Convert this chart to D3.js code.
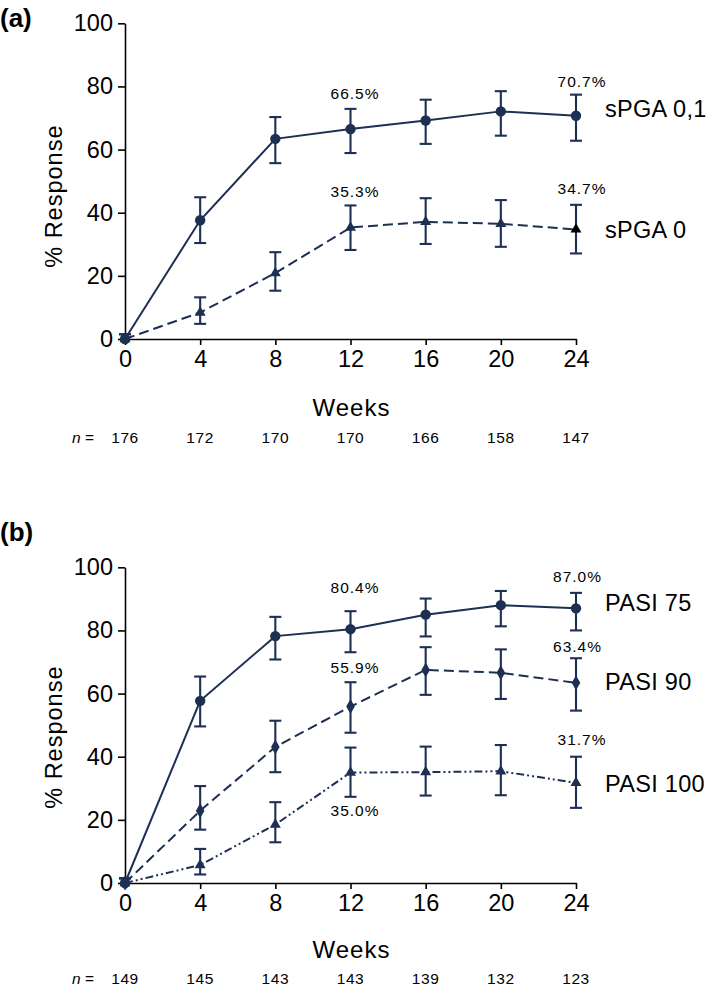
<!DOCTYPE html>
<html>
<head>
<meta charset="utf-8">
<script src="https://cdn.jsdelivr.net/npm/d3@7"></script>
<style>
  html, body { margin: 0; padding: 0; background: #fff; }
  svg { display: block; }
  text { font-family: "Liberation Sans", Arial, Helvetica, sans-serif; fill: #000; }
</style>
</head>
<body>
<svg id="chart" width="709" height="988"></svg>
<script>
// ---------------- DATA ----------------
const weeks = [0, 4, 8, 12, 16, 20, 24];
const xTicks = [0, 4, 8, 12, 16, 20, 24];
const yTicks = [0, 20, 40, 60, 80, 100];

// Panel (a)
const sPGA01     = [0, 37.6, 63.4, 66.5, 69.2, 72.1, 70.7];
const sPGA01Hi   = [1.5, 44.9, 70.3, 72.9, 75.8, 78.5, 77.4];
const sPGA01Lo   = [0, 30.4, 55.7, 58.9, 61.8, 64.4, 62.8];
const sPGA0      = [0, 8.4, 20.9, 35.3, 37.1, 36.5, 34.7];
const sPGA0Hi    = [1.5, 13.2, 27.5, 42.3, 44.6, 44.0, 42.5];
const sPGA0Lo    = [0, 4.8, 15.3, 28.2, 30.1, 29.2, 27.1];
const nA         = [176, 172, 170, 170, 166, 158, 147];

// Panel (b)
const pasi75     = [0, 57.7, 78.2, 80.4, 85.0, 88.0, 87.0];
const pasi75Hi   = [1.5, 65.4, 84.3, 86.1, 90.1, 92.5, 91.9];
const pasi75Lo   = [0, 49.6, 70.8, 73.1, 78.1, 81.3, 80.0];
const pasi90     = [0, 22.9, 43.1, 55.9, 67.5, 66.6, 63.4];
const pasi90Hi   = [1.5, 30.7, 51.4, 63.6, 74.7, 74.0, 71.2];
const pasi90Lo   = [0, 16.9, 35.1, 47.6, 59.6, 58.3, 54.6];
const pasi100    = [0, 5.7, 18.5, 35.0, 35.1, 35.4, 31.7];
const pasi100Hi  = [1.5, 10.8, 25.6, 42.9, 43.2, 43.7, 40.0];
const pasi100Lo  = [0, 2.7, 12.9, 27.3, 27.7, 27.8, 23.8];
const nB         = [149, 145, 143, 143, 139, 132, 123];

const seriesNamesA = ["sPGA 0,1", "sPGA 0"];
const seriesNamesB = ["PASI 75", "PASI 90", "PASI 100"];

// value labels: [series index, week index, text]
const annotA = [[0, 3, "66.5%"], [0, 6, "70.7%"], [1, 3, "35.3%"], [1, 6, "34.7%"]];
const annotB = [[0, 3, "80.4%"], [0, 6, "87.0%"], [1, 3, "55.9%"], [1, 6, "63.4%"], [2, 3, "35.0%"], [2, 6, "31.7%"]];

// ---------------- LAYOUT / STYLE ----------------
const NAVY = "#1d3053";
const svg = d3.select("#chart");
const x = d3.scaleLinear().domain([0, 24]).range([125, 576]);

const panels = [
  {
    tag: "(a)", tagY: 27, top: 23.3, bottom: 339,
    series: [
      { name: seriesNamesA[0], v: sPGA01, hi: sPGA01Hi, lo: sPGA01Lo, sym: "circle", dash: null, legDy: 1.5 },
      { name: seriesNamesA[1], v: sPGA0, hi: sPGA0Hi, lo: sPGA0Lo, sym: "triangle", dash: "10,5", legDy: 8.5, lastFill: "#000" }
    ],
    annot: annotA,
    annotOff: [[4.5, -29.6], [6, -29.1], [4.5, -30.6], [6, -35.5]],
    n: nA, weeksDy: 77, nDy: 104, ylabDy: 15
  },
  {
    tag: "(b)", tagY: 541, top: 567.3, bottom: 883,
    series: [
      { name: seriesNamesB[0], v: pasi75, hi: pasi75Hi, lo: pasi75Lo, sym: "circle", dash: null, legDy: 2.8 },
      { name: seriesNamesB[1], v: pasi90, hi: pasi90Hi, lo: pasi90Lo, sym: "diamond", dash: "10,5", legDy: 7.5 },
      { name: seriesNamesB[2], v: pasi100, hi: pasi100Hi, lo: pasi100Lo, sym: "triangle", dash: "8,3,2,3,2,3", legDy: 9.5 }
    ],
    annot: annotB,
    annotOff: [[4.5, -36.5], [1.5, -26], [4.5, -33.8], [1.5, -30.5], [4.5, 43.5], [6, -37.9]],
    n: nB, weeksDy: 75, nDy: 101, ylabDy: 12
  }
];

const symMap = {
  circle: d3.symbol().type(d3.symbolCircle).size(85),
  triangle: d3.symbol().type(d3.symbolTriangle).size(52),
  diamond: d3.symbol().type(d3.symbolDiamond).size(64)
};

panels.forEach(p => {
  const y = d3.scaleLinear().domain([0, 100]).range([p.bottom, p.top]);
  const g = svg.append("g");

  // panel tag
  g.append("text").attr("x", 0).attr("y", p.tagY)
    .attr("font-size", 26).attr("font-weight", "bold").text(p.tag);

  // y axis
  const yAxis = d3.axisLeft(y).tickValues(yTicks).tickSize(7).tickSizeOuter(0).tickPadding(5);
  const ya = g.append("g").attr("transform", `translate(${x(0)},0)`).call(yAxis);
  ya.selectAll("path, line").attr("stroke", "#000").attr("stroke-width", 1.6);
  ya.selectAll("text").attr("font-size", 23.5).attr("font-family", "Liberation Sans, Arial, sans-serif").attr("fill", "#000");

  // x axis
  const xAxis = d3.axisBottom(x).tickValues(xTicks).tickSize(6).tickSizeOuter(0).tickPadding(5);
  const xa = g.append("g").attr("transform", `translate(0,${p.bottom})`).call(xAxis);
  xa.selectAll("path, line").attr("stroke", "#000").attr("stroke-width", 1.6);
  xa.selectAll("text").attr("font-size", 23.5).attr("font-family", "Liberation Sans, Arial, sans-serif").attr("fill", "#000");

  // y label
  const ym = y(50) + p.ylabDy;
  g.append("text").attr("transform", `translate(62,${ym}) rotate(-90)`)
    .attr("text-anchor", "middle").attr("font-size", 23.5).attr("letter-spacing", 1)
    .text("% Response");

  // x label
  g.append("text").attr("x", (x(0) + x(24)) / 2 + 1).attr("y", p.bottom + p.weeksDy)
    .attr("text-anchor", "middle").attr("font-size", 24).attr("letter-spacing", 1)
    .text("Weeks");

  // n row
  const nrow = g.append("text").attr("x", 72).attr("y", p.bottom + p.nDy).attr("font-size", 15.5);
  nrow.append("tspan").attr("font-style", "italic").text("n");
  nrow.append("tspan").text(" =");
  g.selectAll(".nval").data(p.n).enter().append("text")
    .attr("x", (d, i) => x(weeks[i])).attr("y", p.bottom + p.nDy)
    .attr("text-anchor", "middle").attr("font-size", 15.5).attr("letter-spacing", 0.6)
    .text(d => d);

  // series
  p.series.forEach(s => {
    const pts = weeks.map((w, i) => ({ w, v: s.v[i], hi: s.hi[i], lo: s.lo[i], i }));
    const sg = g.append("g");
    // line
    sg.append("path").datum(pts)
      .attr("d", d3.line().x(d => x(d.w)).y(d => y(d.v)))
      .attr("fill", "none").attr("stroke", NAVY).attr("stroke-width", 2)
      .attr("stroke-dasharray", s.dash);
    // error bars
    const eb = sg.selectAll(".eb").data(pts).enter().append("g");
    eb.append("line").attr("x1", d => x(d.w)).attr("x2", d => x(d.w))
      .attr("y1", d => y(d.hi)).attr("y2", d => y(d.lo))
      .attr("stroke", NAVY).attr("stroke-width", 2.1);
    eb.append("line").attr("x1", d => x(d.w) - 6).attr("x2", d => x(d.w) + 6)
      .attr("y1", d => y(d.hi)).attr("y2", d => y(d.hi))
      .attr("stroke", NAVY).attr("stroke-width", 2.1);
    eb.filter(d => d.lo > 0).append("line").attr("x1", d => x(d.w) - 6).attr("x2", d => x(d.w) + 6)
      .attr("y1", d => y(d.lo)).attr("y2", d => y(d.lo))
      .attr("stroke", NAVY).attr("stroke-width", 2.1);
    // markers
    sg.selectAll(".mk").data(pts).enter().append("path")
      .attr("d", symMap[s.sym])
      .attr("transform", d => `translate(${x(d.w)},${y(d.v)})`)
      .attr("fill", d => (s.lastFill && d.i === weeks.length - 1) ? s.lastFill : NAVY);
    // series label
    g.append("text").attr("x", 605).attr("y", y(s.v[weeks.length - 1]) + s.legDy)
      .attr("font-size", 23.5).attr("letter-spacing", 0.3).text(s.name);
  });

  // value annotations
  p.annot.forEach((a, k) => {
    const s = p.series[a[0]];
    const wi = a[1];
    const off = p.annotOff[k];
    g.append("text").attr("x", x(weeks[wi]) + off[0]).attr("y", y(s.v[wi]) + off[1])
      .attr("text-anchor", "middle").attr("font-size", 15.5).attr("letter-spacing", 1)
      .text(a[2]);
  });
});
</script>
</body>
</html>
